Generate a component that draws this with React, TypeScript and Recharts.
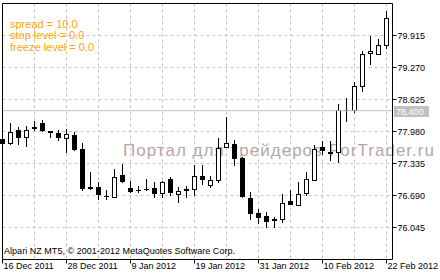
import React from 'react';
import { ComposedChart, Bar, XAxis, YAxis, CartesianGrid, ReferenceLine } from 'recharts';

// daily candles, 16 Dec 2011 .. 22 Feb 2012
const opens = [
  77.82, 77.74, 78.02, 77.87, 78.07, 78.16, 77.99, 77.94, 77.85, 77.91,
  77.62, 76.87, 76.87, 76.69, 76.66, 77.11, 76.85, 76.80, 76.825, 76.85,
  76.75, 77.03, 76.72, 76.82, 76.83, 77.09, 76.91, 77.01, 77.66, 77.73,
  77.44, 76.64, 76.33, 76.27, 76.21, 76.21, 76.58, 76.50, 76.74, 77.01,
  77.66, 77.56, 77.56, 78.41, 78.42, 78.90, 79.56, 79.55, 79.73,
];
const highs = [
  77.90, 78.16, 78.07, 78.10, 78.20, 78.22, 78.00, 78.02, 78.03, 77.97,
  77.74, 77.16, 76.96, 76.81, 77.23, 77.33, 76.98, 76.88, 77.03, 76.96,
  76.99, 77.06, 76.86, 76.89, 77.31, 77.30, 77.08, 77.85, 78.28, 77.81,
  77.46, 76.77, 76.42, 76.35, 76.25, 76.72, 76.81, 76.96, 77.17, 77.71,
  77.79, 77.78, 78.54, 78.66, 78.97, 79.61, 79.90, 79.85, 80.40,
];
const lows = [
  77.66, 77.70, 77.70, 77.66, 77.99, 77.98, 77.85, 77.79, 77.54, 77.58,
  76.79, 76.81, 76.60, 76.60, 76.64, 76.95, 76.75, 76.74, 76.79, 76.64,
  76.64, 76.67, 76.54, 76.64, 76.69, 76.91, 76.84, 76.95, 77.65, 77.28,
  76.64, 76.19, 76.11, 76.03, 76.03, 76.14, 76.49, 76.49, 76.69, 76.98,
  77.50, 77.38, 77.35, 78.17, 78.36, 78.77, 79.33, 79.54, 79.65,
];
const closes = [
  77.72, 77.98, 77.85, 78.02, 78.03, 77.99, 77.95, 77.85, 77.92, 77.60,
  76.82, 76.82, 76.70, 76.68, 77.06, 76.96, 76.76, 76.795, 76.82, 76.72,
  76.96, 76.75, 76.79, 76.78, 77.09, 77.01, 77.00, 77.65, 77.74, 77.43,
  76.66, 76.32, 76.23, 76.15, 76.17, 76.53, 76.50, 76.72, 77.03, 77.63,
  77.59, 77.52, 78.42, 78.42, 78.90, 79.55, 79.61, 79.73, 80.27,
];

const yTicks = [76.045, 76.69, 77.335, 77.98, 78.625, 79.27, 79.915];
const gridIdx = [0, 4, 8, 12, 16, 20, 24, 28, 32, 36, 40, 44, 48];
const labelIdx = [0, 8, 16, 24, 32, 40, 48];
const dateLabels = ['16 Dec 2011', '28 Dec 2011', '9 Jan 2012', '19 Jan 2012', '31 Jan 2012', '10 Feb 2012', '22 Feb 2012'];
const infoLines = ['spread = 10.0', 'stop level = 0.0', 'freeze level = 0.0'];
const currentPrice = 78.4;
const yMin = 75.4;
const yMax = 80.56;

const data = opens.map((o, i) => ({
  i,
  o,
  h: highs[i],
  l: lows[i],
  c: closes[i],
  range: [lows[i], highs[i]],
}));

const font = '"Liberation Sans", Arial, sans-serif';

const Candle = (props: any) => {
  const { x, y, width, height, payload } = props;
  if (x == null || !payload) return null;
  const { o, h, l, c } = payload;
  const top = Math.min(y, y + height);
  const k = Math.abs(height) / (h - l);
  const py = (v: number) => Math.round(top + (h - v) * k);
  const cx = Math.floor(x + width / 2) + 0.5;
  const yo = py(o);
  const yc = py(c);
  const wick = <line x1={cx} x2={cx} y1={py(h)} y2={py(l)} stroke="#000" strokeWidth={1} />;
  if (Math.abs(c - o) < 0.02) {
    return (
      <g>
        {wick}
        <line x1={cx - 2.5} x2={cx + 2.5} y1={yo + 0.5} y2={yo + 0.5} stroke="#000" />
      </g>
    );
  }
  if (c > o) {
    return (
      <g>
        {wick}
        <rect x={cx - 2} y={yc + 0.5} width={4} height={Math.max(1, yo - yc)} fill="#fff" stroke="#000" />
      </g>
    );
  }
  return (
    <g>
      {wick}
      <rect x={cx - 2.5} y={yo} width={5} height={Math.max(2, yc - yo)} fill="#000" />
    </g>
  );
};

const XTick = (props: any) => {
  const { x, y, payload } = props;
  const k = labelIdx.indexOf(payload.value);
  if (k < 0) return null;
  const px = Math.floor(x) + 0.5;
  return (
    <g>
      <line x1={px} x2={px} y1={y} y2={y + 4} stroke="#000" />
      <text x={px + 1} y={y + 9} fontSize={9} fontFamily={font} fill="#000">
        {dateLabels[k]}
      </text>
    </g>
  );
};

const PriceLabel = (props: any) => {
  const vb = props.viewBox || {};
  const left = (vb.x ?? 0) + (vb.width ?? 0) + 1.5;
  const yy = Math.round(vb.y ?? 0);
  return (
    <g>
      <rect x={left} y={yy - 5} width={35} height={11} fill="#c0c0c0" />
      <text x={left + 2} y={yy + 4} fontSize={9} fontFamily={font} fill="#fff">
        {currentPrice.toFixed(3)}
      </text>
    </g>
  );
};

export default function App() {
  return (
    <div style={{ position: 'absolute', left: 0, top: 0, width: 440, height: 280, background: '#fff' }}>
      <svg width={440} height={280} style={{ position: 'absolute', left: 0, top: 0 }}>
        <text x={123} y={156} fontSize={17} fontFamily={font} fill="#b5a6a6" textLength={311} lengthAdjust="spacing">
          Портал для трейдеров ForTrader.ru
        </text>
      </svg>
      <div style={{ position: 'absolute', left: 0, top: 0 }}>
        <ComposedChart width={440} height={280} data={data} margin={{ top: 3.5, right: 0, bottom: 0, left: 2.5 }}>
          <CartesianGrid stroke="#c4c4c4" strokeDasharray="3 3" />
          <XAxis
            dataKey="i"
            type="number"
            domain={[0, 48.75]}
            ticks={gridIdx}
            interval={0}
            height={20.5}
            axisLine={{ stroke: '#000' }}
            tickLine={false}
            tickSize={0}
            tickMargin={0}
            tick={(p: any) => <XTick {...p} />}
          />
          <YAxis
            orientation="right"
            width={47.5}
            domain={[yMin, yMax]}
            ticks={yTicks}
            interval={0}
            axisLine={{ stroke: '#000' }}
            tickLine={{ stroke: '#000' }}
            tickSize={4}
            tickMargin={1}
            tickFormatter={(v: number) => v.toFixed(3)}
            tick={{ fill: '#000', fontSize: 9, fontFamily: font }}
          />
          <ReferenceLine y={currentPrice} stroke="#c0c0c0" label={(p: any) => <PriceLabel {...p} />} />
          <Bar dataKey="range" barSize={5} shape={(p: any) => <Candle {...p} />} isAnimationActive={false} />
          <ReferenceLine x={0} stroke="#000" />
          <ReferenceLine y={yMax} stroke="#000" />
        </ComposedChart>
      </div>
      <svg width={440} height={280} style={{ position: 'absolute', left: 0, top: 0, pointerEvents: 'none' }}>
        {infoLines.map((t, k) => (
          <text key={t} x={10} y={27.5 + k * 11.6} fontSize={11} fontFamily={font} fill="#ffa500">
            {t}
          </text>
        ))}
        <text x={4} y={253.5} fontSize={9} fontFamily={font} fill="#000" textLength={231} lengthAdjust="spacing">
          Alpari NZ MT5, © 2001-2012 MetaQuotes Software Corp.
        </text>
      </svg>
    </div>
  );
}
